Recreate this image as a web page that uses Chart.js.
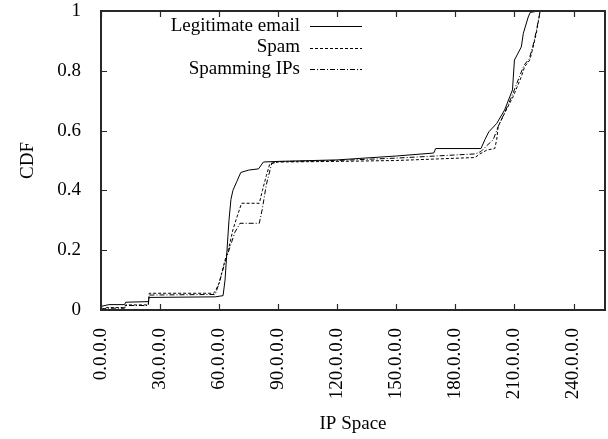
<!DOCTYPE html>
<html>
<head>
<meta charset="utf-8">
<script src="https://cdn.jsdelivr.net/npm/chart.js@4.4.0/dist/chart.umd.min.js"></script>
<style>
  body { margin: 0; background: #fff; }
  #cdfChart { display: block; }
</style>
</head>
<body>
<canvas id="cdfChart" width="608" height="439"></canvas>
<script>
'use strict';

// first octet of the address (0..256) and the CDF value
let legitX = [0, 4, 12, 12.5, 24, 24.5, 58, 62, 63, 64, 65, 66, 67, 69, 71, 75, 80, 82.5, 90, 120, 150, 169, 170, 193, 195, 197, 201, 205, 209, 210, 213.5, 214.5, 217, 218, 222];
let legitY = [0.012, 0.018, 0.018, 0.026, 0.028, 0.042, 0.044, 0.048, 0.1, 0.2, 0.3, 0.37, 0.40, 0.43, 0.46, 0.468, 0.472, 0.495, 0.497, 0.502, 0.515, 0.525, 0.54, 0.54, 0.57, 0.596, 0.624, 0.669, 0.736, 0.836, 0.88, 0.925, 0.98, 0.995, 1.0];

let spamX = [0, 3, 12, 12.5, 24, 24.5, 57, 58, 60, 63, 65, 67, 69, 71.4, 80.4, 82, 84, 85.8, 90, 120, 150, 190, 192, 196, 200, 201, 201.7, 205, 209.3, 213.5, 215.2, 217.8, 219.5, 221.1, 222.8, 223];
let spamY = [0.002, 0.008, 0.008, 0.017, 0.017, 0.056, 0.056, 0.062, 0.09, 0.167, 0.21, 0.268, 0.31, 0.357, 0.357, 0.40, 0.45, 0.49, 0.495, 0.497, 0.50, 0.51, 0.52, 0.535, 0.54, 0.57, 0.613, 0.658, 0.713, 0.78, 0.814, 0.836, 0.88, 0.925, 0.99, 1.0];

let ipsX = [0, 3, 12, 12.5, 24, 24.5, 58, 60, 63, 66, 68, 70.6, 80.4, 82, 84, 86.7, 90, 120, 150, 190, 193, 196, 199.2, 201.7, 205, 209, 212.5, 215, 217.5, 219.3, 221, 222.8, 223];
let ipsY = [0.002, 0.006, 0.006, 0.015, 0.015, 0.05, 0.052, 0.09, 0.16, 0.22, 0.26, 0.29, 0.29, 0.34, 0.42, 0.49, 0.496, 0.5, 0.508, 0.522, 0.53, 0.55, 0.569, 0.613, 0.66, 0.72, 0.78, 0.82, 0.84, 0.88, 0.93, 0.99, 1.0];

let seriesNames = ['Legitimate email', 'Spam', 'Spamming IPs'];
let xTickValues = [0, 30, 60, 90, 120, 150, 180, 210, 240];
let yTickValues = [0, 0.2, 0.4, 0.6, 0.8, 1];

let serif = '"Liberation Serif", "DejaVu Serif", serif';

function toPoints(xs, ys) {
    let pts = [];
    for (let i = 0; i < xs.length; i++) {
        pts.push({ x: xs[i], y: ys[i] });
    }
    return pts;
}

// gnuplot style: box round the plot, ticks pointing inwards, legend lines on the right
let framePlugin = {
    id: 'framePlugin',
    afterDraw(chart) {
        let c = chart.ctx;
        let a = chart.chartArea;
        let sx = chart.scales.x;
        let sy = chart.scales.y;
        c.save();
        c.strokeStyle = 'rgb(40, 40, 40)';
        c.lineWidth = 2;
        c.strokeRect(a.left, a.top, a.width, a.height);
        c.lineWidth = 1.2;
        c.beginPath();
        for (let i = 0; i < xTickValues.length; i++) {
            let px = Math.round(sx.getPixelForValue(xTickValues[i])) + 0.5;
            c.moveTo(px, a.bottom); c.lineTo(px, a.bottom - 6);
            c.moveTo(px, a.top); c.lineTo(px, a.top + 6);
        }
        for (let i = 0; i < yTickValues.length; i++) {
            let py = Math.round(sy.getPixelForValue(yTickValues[i])) + 0.5;
            c.moveTo(a.left, py); c.lineTo(a.left + 6, py);
            c.moveTo(a.right, py); c.lineTo(a.right - 6, py);
        }
        c.stroke();
        c.restore();

        c.save();
        c.font = '19px ' + serif;
        c.fillStyle = '#000';
        c.strokeStyle = '#000';
        c.textAlign = 'right';
        c.textBaseline = 'middle';
        c.lineWidth = 1;
        chart.data.datasets.forEach(function (ds, i) {
            let y = 26 + i * 21.5;
            c.fillText(ds.label, 300, y);
            c.setLineDash(ds.borderDash || []);
            c.beginPath();
            c.moveTo(310, Math.round(y) + 0.5);
            c.lineTo(362, Math.round(y) + 0.5);
            c.stroke();
        });
        c.restore();
    }
};

let ctx = document.getElementById('cdfChart').getContext('2d');
let cdfChart = new Chart(ctx, {
    type: 'line',
    data: {
        datasets: [{
            label: seriesNames[0],
            data: toPoints(legitX, legitY),
            borderColor: '#000',
            borderWidth: 1,
            borderDash: []
        }, {
            label: seriesNames[1],
            data: toPoints(spamX, spamY),
            borderColor: '#000',
            borderWidth: 1,
            borderDash: [3, 2]
        }, {
            label: seriesNames[2],
            data: toPoints(ipsX, ipsY),
            borderColor: '#000',
            borderWidth: 1,
            borderDash: [5, 2, 1, 2]
        }]
    },
    options: {
        responsive: false,
        animation: false,
        events: [],
        layout: { padding: { left: 0, right: 3, top: 11, bottom: 0 } },
        elements: { point: { radius: 0 }, line: { tension: 0 } },
        plugins: {
            legend: { display: false },
            tooltip: { enabled: false }
        },
        scales: {
            x: {
                type: 'linear',
                min: 0,
                max: 256,
                grid: { display: false },
                border: { display: false },
                afterBuildTicks: function (scale) {
                    scale.ticks = xTickValues.map(v => ({ value: v }));
                },
                afterFit: function (scale) {
                    scale.height = 129;
                    scale.paddingLeft = 0;
                    scale.paddingRight = 0;
                },
                ticks: {
                    minRotation: 90,
                    maxRotation: 90,
                    padding: 10,
                    color: '#000',
                    font: { family: serif, size: 19 },
                    callback: v => v + '.0.0.0'
                },
                title: {
                    display: true,
                    text: 'IP Space',
                    color: '#000',
                    font: { family: serif, size: 19 },
                    padding: { top: 0, bottom: 4 }
                }
            },
            y: {
                min: 0,
                max: 1,
                grid: { display: false },
                border: { display: false },
                afterBuildTicks: function (scale) {
                    scale.ticks = yTickValues.map(v => ({ value: v }));
                },
                afterFit: function (scale) {
                    scale.width = 101;
                    scale.paddingTop = 0;
                    scale.paddingBottom = 0;
                },
                ticks: {
                    padding: 12,
                    color: '#000',
                    font: { family: serif, size: 19 },
                    callback: v => String(v)
                },
                title: {
                    display: true,
                    text: 'CDF',
                    color: '#000',
                    font: { family: serif, size: 19 },
                    padding: { top: 17, bottom: 0 }
                }
            }
        }
    },
    plugins: [framePlugin]
});
</script>
</body>
</html>
